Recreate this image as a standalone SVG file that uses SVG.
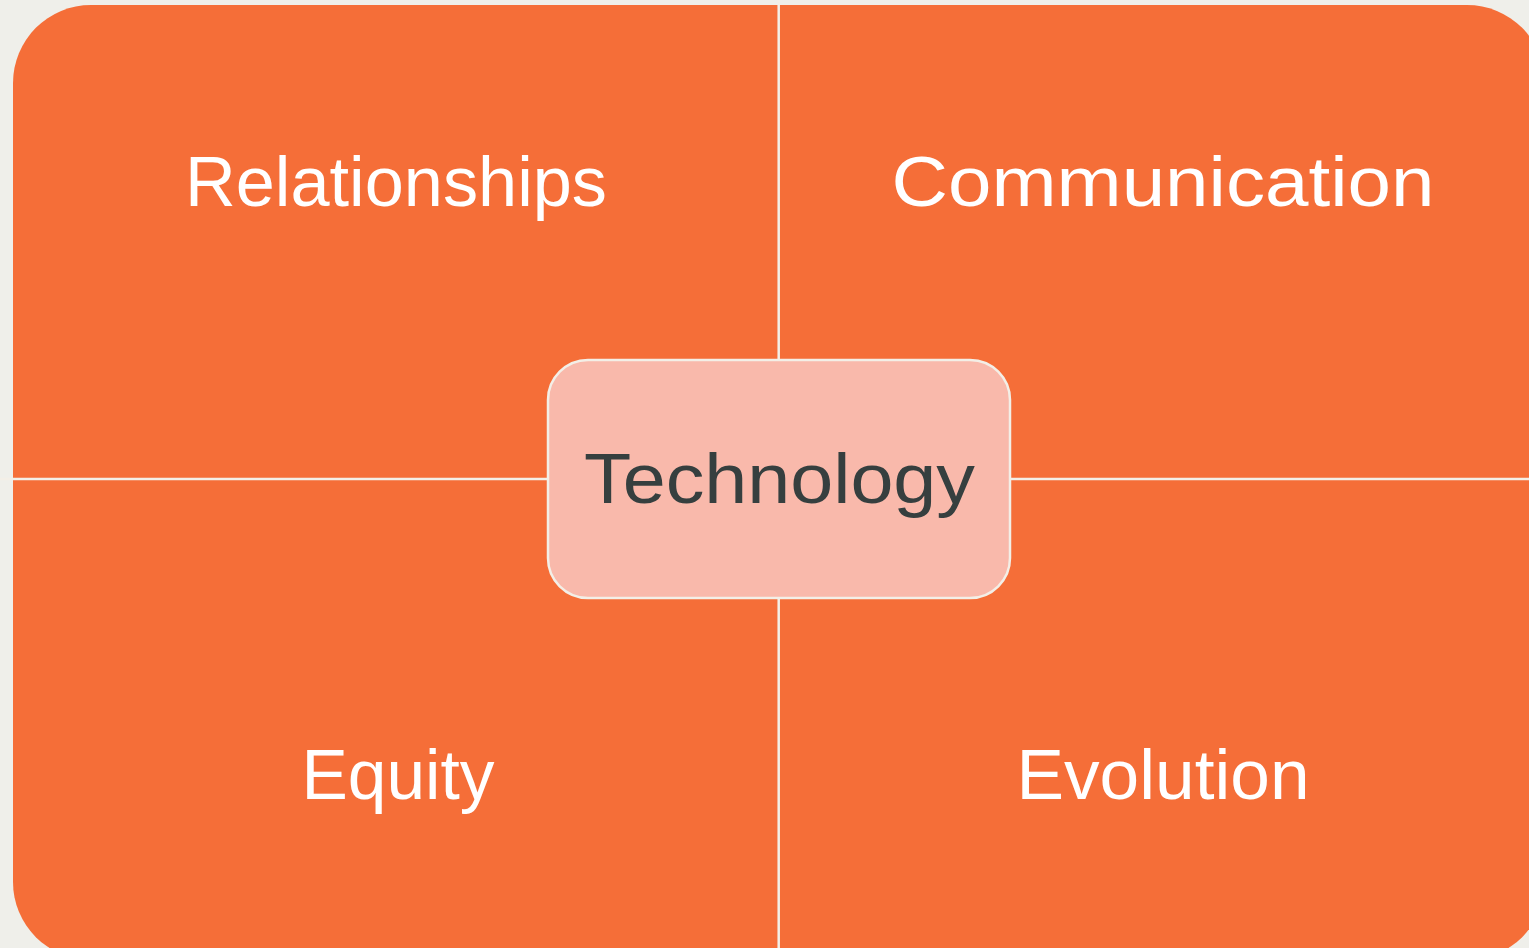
<svg xmlns="http://www.w3.org/2000/svg" width="1529" height="948" viewBox="0 0 1529 948">
  <style>
    .lbl { font-family: "Liberation Sans", Arial, sans-serif; font-size: 70px; fill: #FFFFFF; text-anchor: middle; }
    .ctr { font-family: "Liberation Sans", Arial, sans-serif; font-size: 70px; fill: #363F3F; text-anchor: middle; }
    .sep { stroke: #F3EFE7; stroke-width: 2.5; fill: none; }
  </style>
  <rect x="0" y="0" width="1529" height="948" fill="#EFEFEA"/>
  <g id="quadrants">
    <rect x="13" y="5" width="1532" height="955" rx="78" ry="78" fill="#F56E38"/>
  </g>
  <g id="connectors">
    <line class="sep" x1="778.7" y1="0" x2="778.7" y2="948"/>
    <line class="sep" x1="0" y1="479" x2="1529" y2="479"/>
  </g>
  <g id="node-relationships">
    <text class="lbl" x="396" y="206" textLength="422" lengthAdjust="spacingAndGlyphs">Relationships</text>
  </g>
  <g id="node-communication">
    <text class="lbl" x="1163" y="206" textLength="543" lengthAdjust="spacingAndGlyphs">Communication</text>
  </g>
  <g id="node-equity">
    <text class="lbl" x="398" y="799" textLength="193" lengthAdjust="spacingAndGlyphs">Equity</text>
  </g>
  <g id="node-evolution">
    <text class="lbl" x="1163" y="799" textLength="293" lengthAdjust="spacingAndGlyphs">Evolution</text>
  </g>
  <g id="node-technology">
    <rect x="548" y="360" width="462" height="238" rx="40" ry="40" fill="#F9B9AB" stroke="#F3EFE7" stroke-width="2.5"/>
    <text class="ctr" x="779.5" y="503" textLength="391" lengthAdjust="spacingAndGlyphs">Technology</text>
  </g>
</svg>
